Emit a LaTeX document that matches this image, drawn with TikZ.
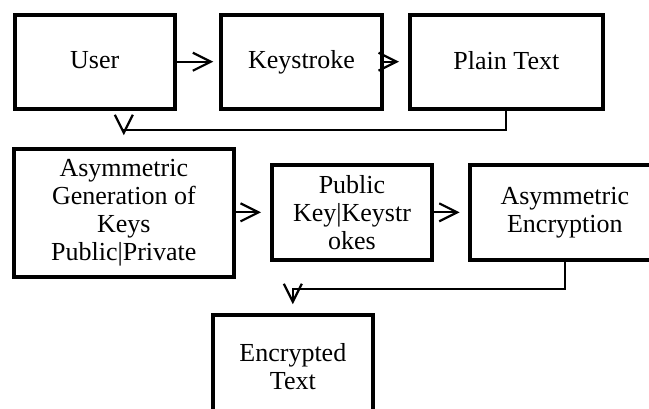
\documentclass[tikz,border=0pt]{standalone}
\usepackage{fontspec}
\setmainfont{Liberation Serif}
\usetikzlibrary{arrows.meta,calc}
\begin{document}
\begin{tikzpicture}[x=1pt,y=-1pt,
  box/.style={draw=black,line width=4pt,rectangle,inner sep=0pt,align=center,
    font=\fontsize{26}{28}\selectfont},
  oneline/.style={text height=19pt,text depth=5pt},
  conn/.style={draw=black,line width=2.2pt,
    -{Straight Barb[length=18pt,width=18pt,line width=2.2pt]}}]
\useasboundingbox (0,0) rectangle (649,408);
\clip (0,0) rectangle (649,408);
\fill[white] (0,0) rectangle (649,408);
\node[box,oneline,minimum width=160pt,minimum height=94pt] (user) at (94.7,61.7) {User};
\node[box,oneline,minimum width=160.4pt,minimum height=94pt] (key) at (301.5,61.7) {Keystroke};
\node[box,oneline,minimum width=192.7pt,minimum height=94pt] (plain) at (506.35,62) {Plain Text};
\node[box,minimum width=219.7pt,minimum height=128.3pt] (gen) at (123.85,212.85) {Asymmetric\\Generation of\\Keys\\Public|Private};
\node[box,minimum width=160pt,minimum height=95.3pt] (pub) at (352,212.35) {Public\\Key|Keystr\\okes};
\node[box,minimum width=190.3pt,minimum height=95.3pt] (enc) at (564.85,212.35) {Asymmetric\\Encryption};
\node[box,minimum width=160.3pt,minimum height=103pt] (etext) at (292.85,366.2) {Encrypted\\Text};
\draw[conn,shorten >=6pt] (user.east |- key.west) -- (key.west);
\draw[conn,shorten >=9pt] (key.east) -- (plain.west |- key.east);
\draw[conn,shorten >=9pt] (gen.east |- pub.west) -- (pub.west);
\draw[conn,shorten >=8pt] (pub.east) -- (enc.west);
\coordinate (c1) at ($(plain.south)+(0,19)$);
\draw[conn,shorten >=11.5pt] (plain.south) -- (c1) -| (gen.north);
\coordinate (c2) at ($(enc.south)+(0,27.3)$);
\draw[conn,shorten >=8.5pt] (enc.south) -- (c2) -| (etext.north);
\end{tikzpicture}
\end{document}
